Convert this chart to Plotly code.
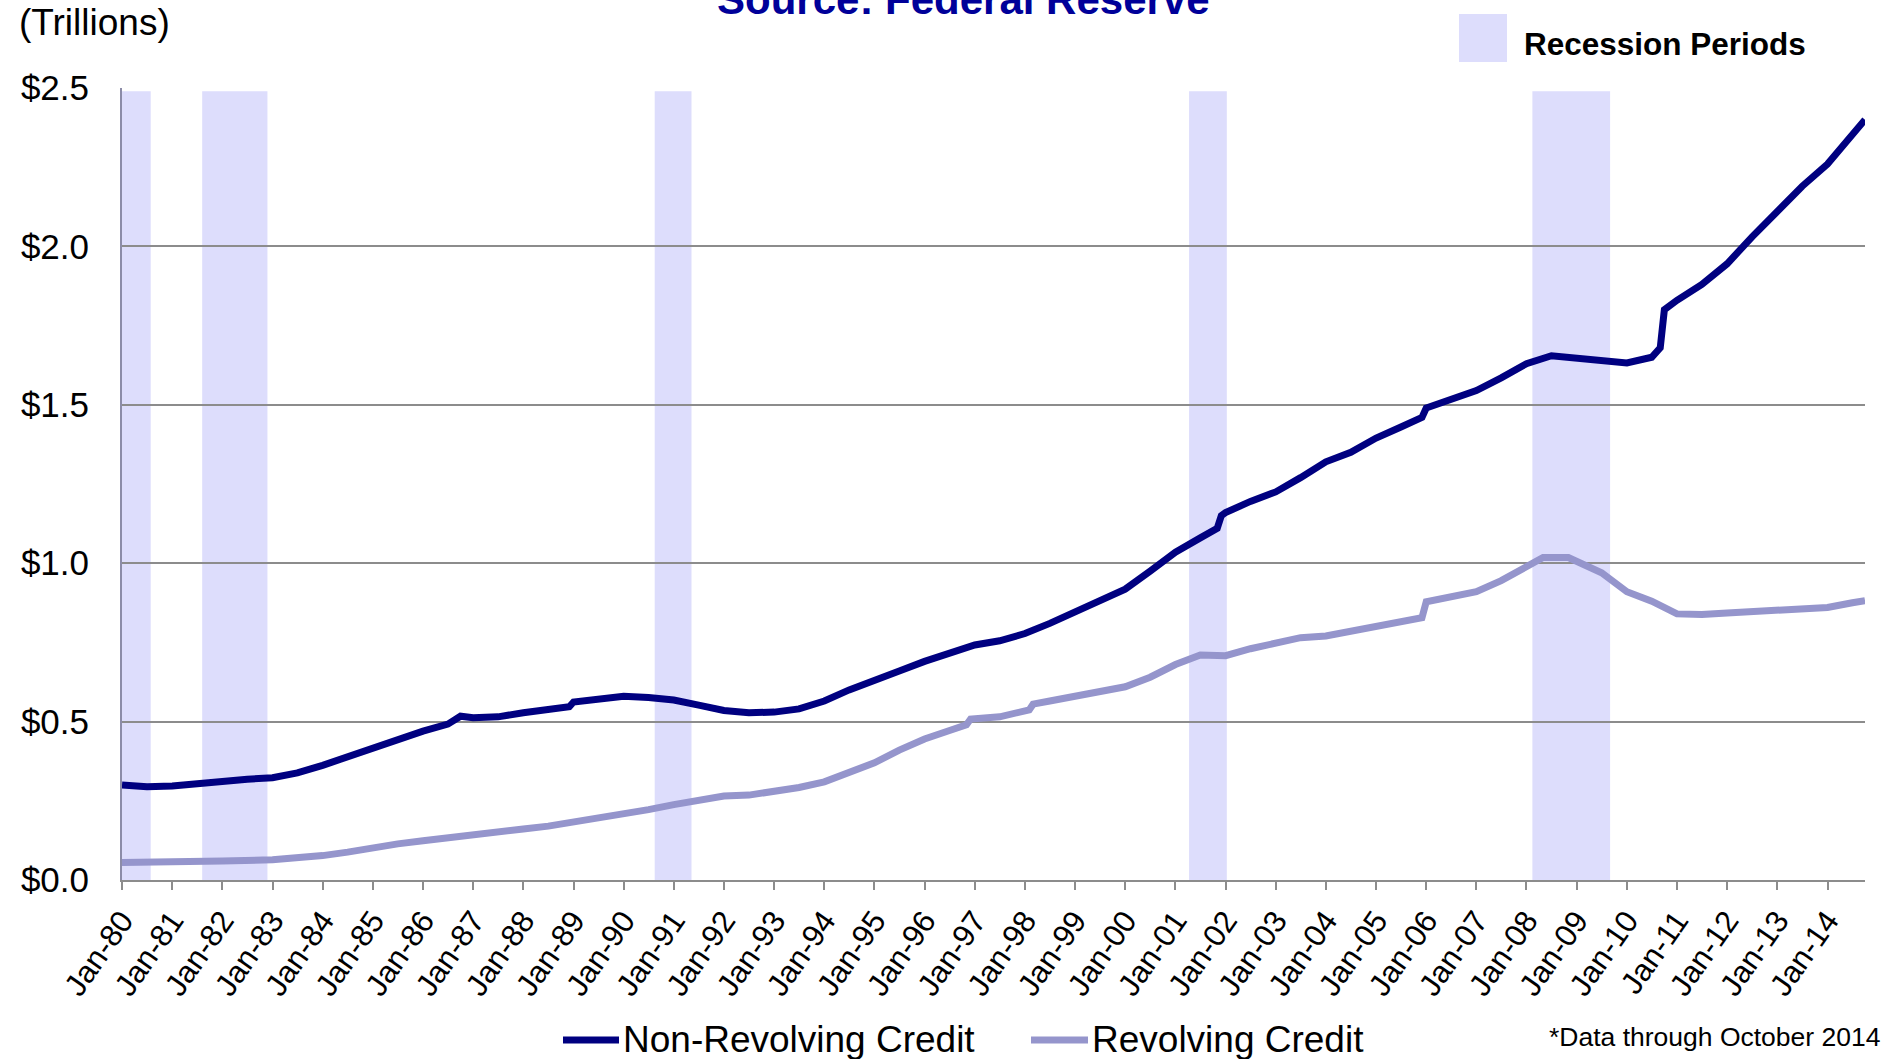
import plotly.graph_objects as go

# ---- data (trillions of dollars) ----
nonrev_dates = ["1980-01-01","1980-07-01","1981-01-01","1981-07-01","1982-01-01","1982-07-01","1983-01-01","1983-07-01",
                "1984-01-01","1984-07-01","1985-01-01","1985-07-01","1986-01-01","1986-07-01","1986-10-01","1987-01-01",
                "1987-07-01","1988-01-01","1988-07-01","1988-12-01","1989-01-01","1989-07-01","1990-01-01","1990-07-01",
                "1991-01-01","1991-07-01","1992-01-01","1992-07-01","1993-01-01","1993-07-01","1994-01-01","1994-07-01",
                "1995-01-01","1995-07-01","1996-01-01","1996-07-01","1997-01-01","1997-07-01","1998-01-01","1998-07-01",
                "1999-01-01","1999-07-01","2000-01-01","2000-07-01","2001-01-01","2001-07-01","2001-11-01","2001-12-01",
                "2002-01-01","2002-07-01","2003-01-01","2003-07-01","2004-01-01","2004-07-01","2005-01-01","2005-07-01",
                "2005-12-01","2006-01-01","2006-07-01","2007-01-01","2007-07-01","2008-01-01","2008-07-01","2009-01-01",
                "2009-07-01","2010-01-01","2010-07-01","2010-09-01","2010-10-01","2011-01-01","2011-07-01","2012-01-01",
                "2012-07-01","2013-01-01","2013-07-01","2014-01-01","2014-07-01","2014-10-01"]
nonrev_values = [0.300,0.294,0.297,0.305,0.312,0.318,0.323,0.338,
                 0.362,0.390,0.415,0.447,0.470,0.492,0.517,0.512,
                 0.515,0.528,0.540,0.547,0.562,0.573,0.580,0.576,
                 0.568,0.552,0.535,0.528,0.530,0.540,0.565,0.600,
                 0.633,0.660,0.690,0.715,0.742,0.755,0.778,0.810,
                 0.845,0.885,0.918,0.975,1.035,1.080,1.110,1.150,
                 1.160,1.195,1.225,1.270,1.320,1.350,1.395,1.430,
                 1.460,1.490,1.515,1.545,1.585,1.630,1.655,1.648,
                 1.638,1.632,1.650,1.680,1.800,1.830,1.880,1.945,
                 2.030,2.110,2.190,2.260,2.350,2.400]

rev_dates = ["1980-01-01","1981-01-01","1982-01-01","1983-01-01","1983-07-01","1984-01-01","1984-07-01","1985-01-01",
             "1985-07-01","1986-01-01","1986-07-01","1987-01-01","1987-07-01","1988-01-01","1988-07-01","1989-01-01",
             "1989-07-01","1990-01-01","1990-07-01","1991-01-01","1991-07-01","1992-01-01","1992-07-01","1993-01-01",
             "1993-07-01","1994-01-01","1994-07-01","1995-01-01","1995-07-01","1996-01-01","1996-07-01","1996-11-01",
             "1996-12-01","1997-07-01","1998-02-01","1998-03-01","1998-07-01","1999-01-01","1999-07-01","2000-01-01",
             "2000-07-01","2001-01-01","2001-07-01","2002-01-01","2002-07-01","2003-01-01","2003-07-01","2004-01-01",
             "2004-07-01","2005-01-01","2005-07-01","2005-12-01","2006-01-01","2006-07-01","2007-01-01","2007-07-01",
             "2008-01-01","2008-05-01","2008-11-01","2009-07-01","2010-01-01","2010-07-01","2011-01-01","2011-07-01",
             "2012-01-01","2012-07-01","2013-01-01","2013-07-01","2014-01-01","2014-07-01","2014-10-01"]
rev_values = [0.055,0.056,0.060,0.064,0.068,0.077,0.088,0.102,
              0.114,0.124,0.132,0.140,0.149,0.161,0.170,0.182,
              0.195,0.209,0.222,0.238,0.252,0.265,0.268,0.280,
              0.292,0.310,0.340,0.370,0.410,0.445,0.472,0.490,
              0.508,0.515,0.537,0.555,0.565,0.580,0.595,0.610,
              0.640,0.680,0.710,0.708,0.730,0.750,0.765,0.770,
              0.785,0.800,0.815,0.828,0.878,0.895,0.910,0.945,
              0.990,1.018,1.018,0.970,0.910,0.880,0.840,0.838,
              0.843,0.848,0.852,0.855,0.860,0.875,0.882]

recession_starts = ["1980-01-01","1981-08-07","1990-08-15","2001-04-10","2008-02-13"]
recession_ends   = ["1980-07-28","1982-11-25","1991-05-10","2002-01-10","2009-09-01"]

series_names = ["Non-Revolving Credit", "Revolving Credit"]
y_ticks = [0.0, 0.5, 1.0, 1.5, 2.0, 2.5]
y_tick_labels = ["$0.0", "$0.5", "$1.0", "$1.5", "$2.0", "$2.5"]

NAVY = "#000080"
LAV = "#9595CC"
BAND = "#DDDDFC"
FONT = "Liberation Sans, Arial, sans-serif"

# plot area in page pixels
L, R, T, B = 122, 1865, 88, 880
W, H = 1895, 1059


def px(X):
    return (X - L) / (R - L)


def py(Y):
    return (B - Y) / (B - T)


fig = go.Figure()
colors = [NAVY, LAV]
fig.add_trace(go.Scatter(x=nonrev_dates, y=nonrev_values, mode="lines", name=series_names[0],
                         line=dict(color=NAVY, width=7), showlegend=False))
fig.add_trace(go.Scatter(x=rev_dates, y=rev_values, mode="lines", name=series_names[1],
                         line=dict(color=LAV, width=7), showlegend=False))

for s, e in zip(recession_starts, recession_ends):
    fig.add_shape(type="rect", xref="x", yref="y", x0=s, x1=e, y0=0, y1=2.49,
                  fillcolor=BAND, line_width=0, layer="below")

# Recession legend box
fig.add_shape(type="rect", xref="paper", yref="paper",
              x0=px(1459), x1=px(1507), y0=py(62), y1=py(14),
              fillcolor=BAND, line_width=0)
fig.add_annotation(x=px(1522), y=py(44), xref="paper", yref="paper",
                   text="<b>Recession Periods</b>", showarrow=False, xanchor="left", yanchor="middle",
                   font=dict(size=31.5, color="black", family=FONT))

fig.add_annotation(x=px(963), y=py(25), xref="paper", yref="paper",
                   text="<b>Source: Federal Reserve</b>", showarrow=False, xanchor="center", yanchor="bottom",
                   font=dict(size=42, color="#000099", family=FONT))

fig.add_annotation(x=px(17), y=py(22), xref="paper", yref="paper",
                   text="(Trillions)", showarrow=False, xanchor="left", yanchor="middle",
                   font=dict(size=37, color="black", family=FONT))

fig.add_annotation(x=px(1882), y=py(1037), xref="paper", yref="paper",
                   text="*Data through October 2014", showarrow=False, xanchor="right", yanchor="middle",
                   font=dict(size=26.5, color="black", family=FONT))

# bottom legend (drawn manually so that it does not push margins)
legend_line_x = [(563, 619), (1031, 1088)]
legend_y = 1040
for (x0, x1), name, col in zip(legend_line_x, series_names, colors):
    fig.add_shape(type="line", xref="paper", yref="paper", x0=px(x0), x1=px(x1),
                  y0=py(legend_y), y1=py(legend_y), line=dict(color=col, width=7))
    fig.add_annotation(x=px(x1 + 2), y=py(legend_y - 1), xref="paper", yref="paper",
                       text=name, showarrow=False, xanchor="left", yanchor="middle",
                       font=dict(size=37, color="black", family=FONT))

fig.update_layout(
    width=W, height=H,
    margin=dict(l=L, r=W - R, t=T, b=H - B, autoexpand=False),
    paper_bgcolor="white", plot_bgcolor="white",
    font=dict(family=FONT, color="black"),
    showlegend=False,
    xaxis=dict(type="date", range=["1980-01-01", "2014-10-01"], tick0="1980-01-01", dtick="M12",
               tickformat="%b-%y", tickangle=-55, tickfont=dict(size=31, family=FONT, color="black"),
               showline=True, linecolor="#8c8c8c", linewidth=2, ticks="outside", ticklen=8,
               tickcolor="#8c8c8c", tickwidth=2, showgrid=False, zeroline=False, automargin=False),
    yaxis=dict(range=[0, 2.5], tickvals=y_ticks, ticktext=y_tick_labels,
               tickfont=dict(size=35, family=FONT, color="black"),
               showline=True, linecolor="#8c8ca8", linewidth=2, ticks="", ticklabelstandoff=24,
               showgrid=True, gridcolor="#8c8c8c", gridwidth=2, zeroline=False, automargin=False),
)

# remove the browser's default 8px body margin so the figure sits at the page origin
fig.write_html("out.html", config={"displayModeBar": False},
               post_script="document.body.style.margin='0';")
